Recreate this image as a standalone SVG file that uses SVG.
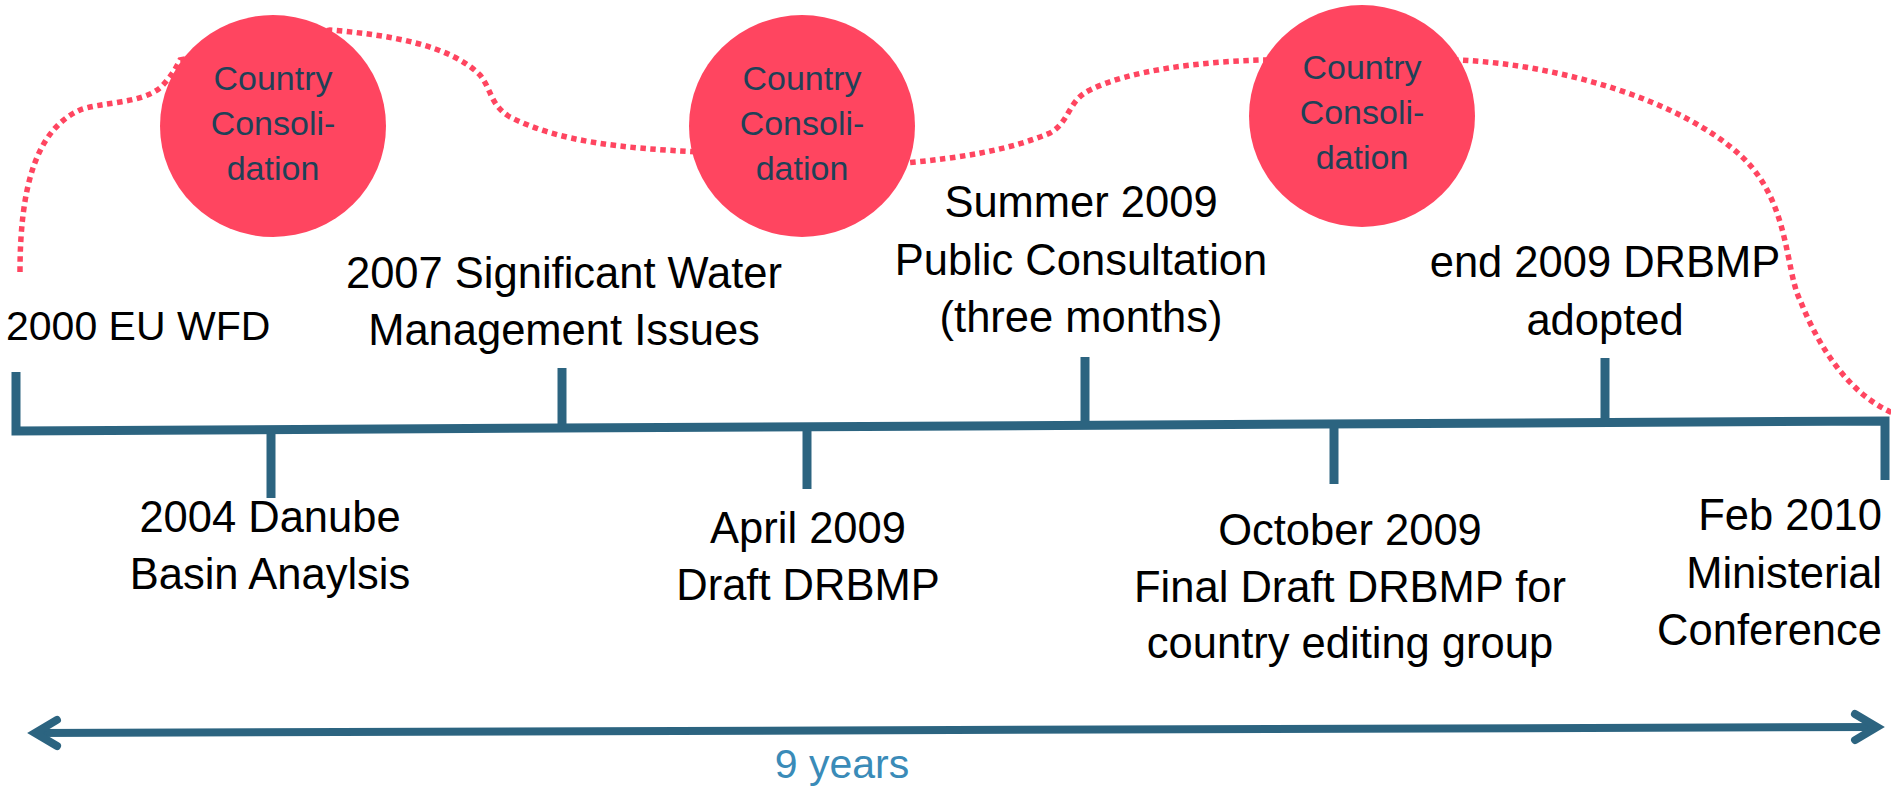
<svg xmlns="http://www.w3.org/2000/svg" width="1891" height="787" viewBox="0 0 1891 787">
  <style>
    .bg { fill: #ffffff; }
    .lbl { font-family: "Liberation Sans", Arial, sans-serif; font-size: 43.5px; fill: #000000; text-anchor: middle; }
    .ctext { font-family: "Liberation Sans", Arial, sans-serif; font-size: 34px; fill: #1f4157; text-anchor: middle; }
    .years { font-family: "Liberation Sans", Arial, sans-serif; font-size: 41px; fill: #3a8bb8; text-anchor: middle; }
    .circle { fill: #ff4560; }
    .tl { fill: none; stroke: #2c6480; stroke-width: 9; stroke-linejoin: miter; }
    .tick { stroke: #2c6480; stroke-width: 9; }
    .dots { fill: none; stroke: #ff4560; stroke-width: 5.5; stroke-dasharray: 5.5 4.5; }
    .span { fill: none; stroke: #2c6480; stroke-width: 8; }
  </style>
  <defs>
    <marker id="chev" markerUnits="userSpaceOnUse" viewBox="-45 -25 55 50" markerWidth="55" markerHeight="50" refX="0" refY="0" orient="auto-start-reverse">
      <path d="M -22 -13 L 0 0 L -22 13" fill="none" stroke="#2c6480" stroke-width="8" stroke-linecap="round" stroke-linejoin="miter" stroke-miterlimit="10"/>
    </marker>
  </defs>
  <rect class="bg" x="0" y="0" width="1891" height="787"/>

  <g id="connectors">
    <path class="dots" d="M 20 272 C 20 190, 35 130, 80 110 C 100 102, 140 104, 160 88 C 170 78, 175 70, 180 60 L 330 30 C 390 35, 450 45, 480 75 C 492 90, 490 105, 510 117 C 560 142, 620 148, 700 152 L 905 163 C 960 158, 1010 150, 1050 133 C 1070 122, 1068 100, 1090 90 C 1130 70, 1200 62, 1260 60 L 1460 60 C 1560 65, 1680 100, 1740 155 C 1790 200, 1785 270, 1800 300 C 1820 350, 1850 395, 1895 414"/>
    <path class="tl" d="M 16 372 L 16 431 L 1885 421 L 1885 480"/>
    <path class="span" d="M 35 733 L 1877 727" marker-start="url(#chev)" marker-end="url(#chev)"/>
  </g>

  <g id="consolidation-1">
    <ellipse class="circle" cx="273" cy="126" rx="113" ry="111"/>
    <text class="ctext" x="273" y="90">Country</text>
    <text class="ctext" x="273" y="135">Consoli-</text>
    <text class="ctext" x="273" y="180">dation</text>
  </g>
  <g id="consolidation-2">
    <ellipse class="circle" cx="802" cy="126" rx="113" ry="111"/>
    <text class="ctext" x="802" y="90">Country</text>
    <text class="ctext" x="802" y="135">Consoli-</text>
    <text class="ctext" x="802" y="180">dation</text>
  </g>
  <g id="consolidation-3">
    <ellipse class="circle" cx="1362" cy="116" rx="113" ry="111"/>
    <text class="ctext" x="1362" y="79">Country</text>
    <text class="ctext" x="1362" y="124">Consoli-</text>
    <text class="ctext" x="1362" y="169">dation</text>
  </g>

  <g id="event-2000">
    <text class="lbl" x="6" y="340" style="text-anchor:start;font-size:41px">2000 EU WFD</text>
  </g>
  <g id="event-2004">
    <line class="tick" x1="271" y1="428" x2="271" y2="498"/>
    <text class="lbl" x="270" y="532">2004 Danube</text>
    <text class="lbl" x="270" y="589">Basin Anaylsis</text>
  </g>
  <g id="event-2007">
    <line class="tick" x1="562" y1="430" x2="562" y2="368"/>
    <text class="lbl" x="564" y="288">2007 Significant Water</text>
    <text class="lbl" x="564" y="345">Management Issues</text>
  </g>
  <g id="event-apr2009">
    <line class="tick" x1="807" y1="425" x2="807" y2="489"/>
    <text class="lbl" x="808" y="543">April 2009</text>
    <text class="lbl" x="808" y="600">Draft DRBMP</text>
  </g>
  <g id="event-summer2009">
    <line class="tick" x1="1085" y1="427" x2="1085" y2="357"/>
    <text class="lbl" x="1081" y="217">Summer 2009</text>
    <text class="lbl" x="1081" y="275">Public Consultation</text>
    <text class="lbl" x="1081" y="332">(three months)</text>
  </g>
  <g id="event-oct2009">
    <line class="tick" x1="1334" y1="422" x2="1334" y2="484"/>
    <text class="lbl" x="1350" y="545">October 2009</text>
    <text class="lbl" x="1350" y="602">Final Draft DRBMP for</text>
    <text class="lbl" x="1350" y="658">country editing group</text>
  </g>
  <g id="event-end2009">
    <line class="tick" x1="1605" y1="425" x2="1605" y2="358"/>
    <text class="lbl" x="1605" y="277">end 2009 DRBMP</text>
    <text class="lbl" x="1605" y="335">adopted</text>
  </g>
  <g id="event-feb2010">
    <text class="lbl" x="1882" y="530" style="text-anchor:end">Feb 2010</text>
    <text class="lbl" x="1882" y="588" style="text-anchor:end">Ministerial</text>
    <text class="lbl" x="1882" y="645" style="text-anchor:end">Conference</text>
  </g>
  <g id="span-label">
    <text class="years" x="842" y="778">9 years</text>
  </g>
</svg>
